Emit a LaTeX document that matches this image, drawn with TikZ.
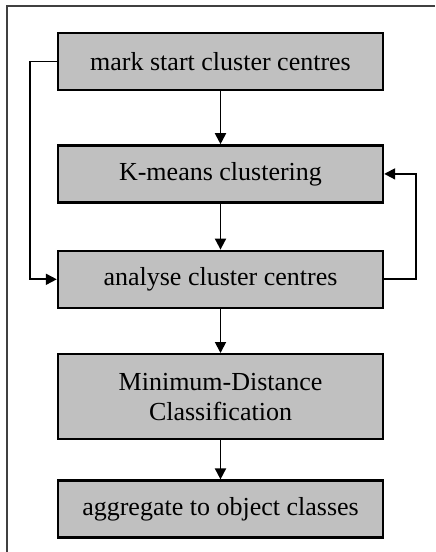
\documentclass[tikz,border=0pt]{standalone}
\usepackage{fontspec}
\setmainfont{Liberation Serif}
\usetikzlibrary{positioning,arrows.meta}

\begin{document}
\begin{tikzpicture}[-{Triangle[length=5.5pt,width=5.5pt]},line width=0.9pt,
    base box/.style={rectangle,draw,fill=boxgray,line width=1.2pt,minimum width=162.5pt,minimum height=28.5pt,
        align=center,font=\fontsize{13}{15}\selectfont}]
\definecolor{boxgray}{RGB}{192,192,192}
\definecolor{framegray}{RGB}{64,64,64}
\useasboundingbox (0,0) rectangle (217.5pt,-276pt);
% outer frame (only top and left edges visible)
\draw[-,framegray,line width=1pt] (3.5pt,-276pt) -- (3.5pt,-3pt) -- (217.5pt,-3pt);

\node[base box]                      (mark)     at (110.25pt,-30.75pt) {mark start cluster centres};
\node[base box,below=26.5pt of mark] (kmeans)   {K-means clustering};
\node[base box,below=23pt of kmeans] (analyse)  {analyse cluster centres};
\node[base box,below=22pt of analyse,minimum height=42.5pt] (mindist) {Minimum-Distance\\Classification};
\node[base box,below=19.5pt of mindist] (aggr)  {aggregate to object classes};

\draw (mark) -- (kmeans);
\draw (kmeans) -- (analyse);
\draw (analyse) -- (mindist);
\draw (mindist) -- (aggr);
% feedback loops
\draw (mark.west) -- ++(-13.5pt,0) |- (analyse.west);
\draw (analyse.east) -- ++(16pt,0) |- (kmeans.east);
\end{tikzpicture}
\end{document}
